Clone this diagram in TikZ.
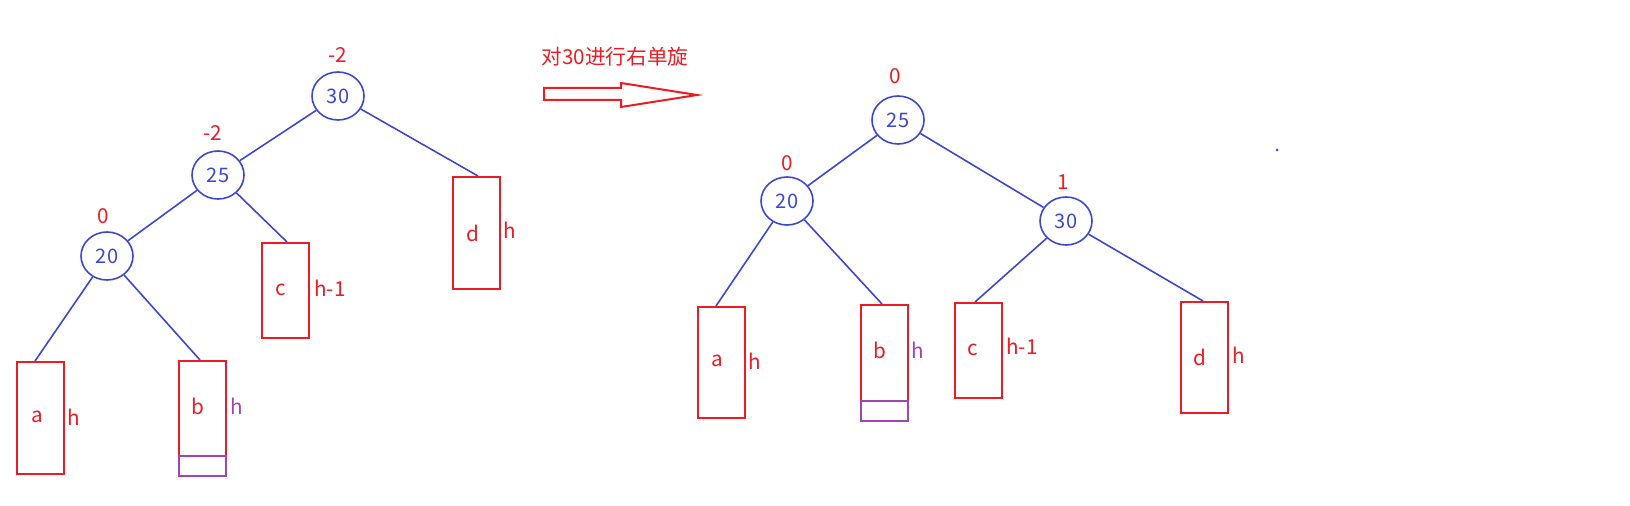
\documentclass[tikz,border=0pt]{standalone}
\usepackage{fontspec}
\setmainfont{Noto Sans CJK SC}
\begin{document}
\begin{tikzpicture}[x=0.75pt,y=-0.75pt,
  cn/.style={ellipse,draw=myblue,line width=1.2pt,minimum width=39pt,minimum height=36pt,inner sep=0pt,text=myblue,font=\fontsize{15}{15}\selectfont},
  bx/.style={draw=myred,line width=1.5pt,minimum width=35pt,anchor=north west,inner sep=0pt},
  pb/.style={draw=mypurple,line width=1.5pt,minimum width=35pt,minimum height=15pt,anchor=north west,inner sep=0pt},
  rt/.style={text=myred,font=\fontsize{15.5}{15.5}\selectfont},
  pt/.style={text=mypurple,font=\fontsize{15.5}{15.5}\selectfont},
  ed/.style={draw=myblue,line width=1.2pt}]
\usetikzlibrary{shapes.geometric}
\definecolor{myblue}{RGB}{60,72,210}
\definecolor{myred}{RGB}{237,28,36}
\definecolor{mypurple}{RGB}{160,70,180}
\useasboundingbox (0,0) rectangle (1630,506);
% left tree
\node[cn] (L30) at (338,96) {30};
\node[cn] (L25) at (218,175) {25};
\node[cn] (L20) at (107,256) {20};
\node[rt] (l1) at (338,55) {-2};
\node[rt] (l2) at (213,133) {-2};
\node[rt] (l3) at (103,216) {0};
\node[bx,minimum height=84pt] (La) at (16,361) {};
\node[bx,minimum height=71.25pt] (Lb) at (178,360) {};
\node[pb] (Lbp) at (178,455) {};
\node[bx,minimum height=71.25pt] (Lc) at (261,242) {};
\node[bx,minimum height=84pt] (Ld) at (452,176) {};
\node[rt] at (37,417) {a}; \node[rt] at (74,417) {h};
\node[rt] at (198,406) {b}; \node[pt] at (237,406) {h};
\node[rt] at (281,290) {c}; \node[rt] at (330,288) {h-1};
\node[rt] at (473,233) {d}; \node[rt] at (510,230) {h};
\coordinate (ta) at (35,361); \coordinate (tb) at (200,360);
\coordinate (tc) at (287,242); \coordinate (td) at (478,176);
\draw[ed] (L30) -- (L25); \draw[ed] (L30) -- (td);
\draw[ed] (L25) -- (L20); \draw[ed] (L25) -- (tc);
\draw[ed] (L20) -- (ta); \draw[ed] (L20) -- (tb);
% arrow
\node[text=myred,font=\fontsize{15.5}{15.5}\selectfont,anchor=west] (t) at (537,57) {对30进行右单旋};
\draw[myred,line width=1.5pt] (544,88) -- (621,88) -- (621,83) -- (697,95) -- (621,107) -- (621,100) -- (544,100) -- cycle;
% right tree
\node[cn] (R25) at (898,120) {25};
\node[cn] (R20) at (787,201) {20};
\node[cn] (R30) at (1066,221) {30};
\node[rt] at (895,76) {0};
\node[rt] at (787,163) {0};
\node[rt] at (1063,182) {1};
\node[bx,minimum height=83.25pt] (Ra) at (697,306) {};
\node[bx,minimum height=72pt] (Rb) at (860,304) {};
\node[pb] (Rbp) at (860,400) {};
\node[bx,minimum height=71.25pt] (Rc) at (954,302) {};
\node[bx,minimum height=83.25pt] (Rd) at (1180,301) {};
\node[rt] at (717,361) {a}; \node[rt] at (755,361) {h};
\node[rt] at (880,350) {b}; \node[pt] at (918,350) {h};
\node[rt] at (973,350) {c}; \node[rt] at (1022,346) {h-1};
\node[rt] at (1200,357) {d}; \node[rt] at (1239,355) {h};
\coordinate (ra) at (716,306); \coordinate (rb) at (882,304);
\coordinate (rc) at (975,302); \coordinate (rd) at (1203,301);
\draw[ed] (R25) -- (R20); \draw[ed] (R25) -- (R30);
\draw[ed] (R20) -- (ra); \draw[ed] (R20) -- (rb);
\draw[ed] (R30) -- (rc); \draw[ed] (R30) -- (rd);
\fill[myblue] (1277,150) circle (1.5);
\end{tikzpicture}
\end{document}
